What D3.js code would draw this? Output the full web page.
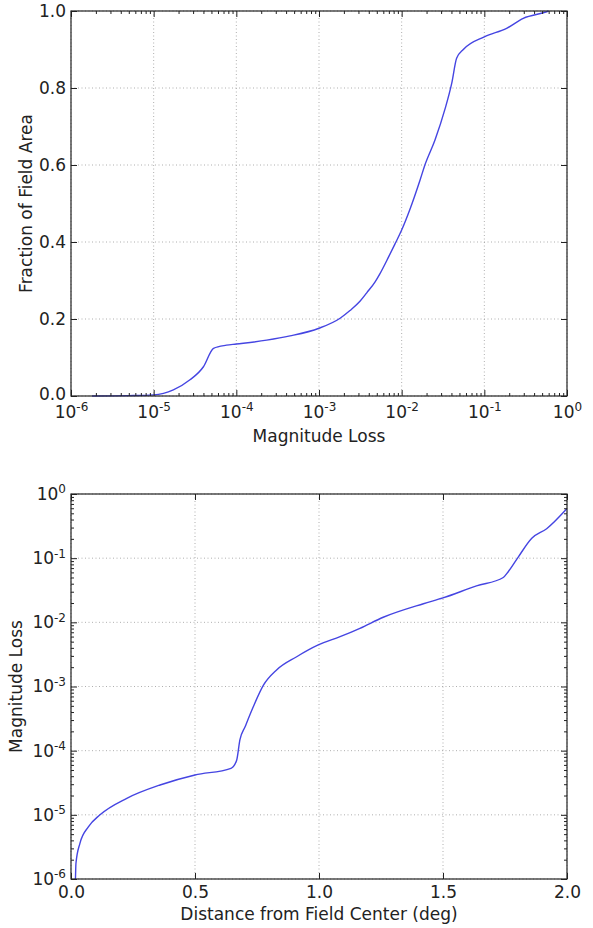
<!DOCTYPE html>
<html>
<head>
<meta charset="utf-8">
<script src="https://cdn.jsdelivr.net/npm/d3@7"></script>
<style>
  html, body { margin: 0; padding: 0; background: #fff; }
  svg { display: block; font-family: "DejaVu Sans", sans-serif; }
</style>
</head>
<body>
<svg id="chart" width="593" height="928"></svg>
<script>
// ---------- Data: top panel (cumulative fraction of field area vs magnitude loss) ----------
const topLoss = [1.8e-6, 5.0e-6, 1.0e-5, 1.73e-5, 2.75e-5, 4.0e-5, 5.3e-5, 7.6e-5, 1.0e-4,
  2.33e-4, 4.46e-4, 1.0e-3, 1.8e-3, 2.37e-3, 3.13e-3, 3.78e-3, 4.75e-3, 5.47e-3, 6.9e-3, 8.3e-3,
  1.0e-2, 1.26e-2, 1.67e-2, 1.91e-2, 2.53e-2, 3.34e-2, 4.03e-2, 4.62e-2, 5.57e-2, 0.1,
  0.186, 0.296, 0.567, 0.6];
const topFraction = [0.0, 0.001, 0.003, 0.016, 0.042, 0.076, 0.124, 0.132, 0.135,
  0.145, 0.156, 0.176, 0.202, 0.222, 0.246, 0.268, 0.296, 0.318, 0.36, 0.395,
  0.431, 0.485, 0.561, 0.600, 0.665, 0.745, 0.812, 0.877, 0.900, 0.933,
  0.955, 0.981, 0.998, 1.0];

// ---------- Data: bottom panel (magnitude loss vs distance from field center) ----------
const botDistance = [0.018, 0.02, 0.036, 0.07, 0.117, 0.225, 0.359, 0.5, 0.645, 0.668,
  0.681, 0.702, 0.735, 0.776, 0.829, 0.91, 0.997, 1.085, 1.165, 1.259, 1.421, 1.5,
  1.635, 1.743, 1.763, 1.804, 1.858, 1.918, 1.999];
const botLoss = [1.0e-6, 1.76e-6, 3.6e-6, 6.5e-6, 1.0e-5, 1.81e-5, 2.92e-5, 4.18e-5, 5.31e-5, 7.1e-5,
  1.47e-4, 2.36e-4, 4.84e-4, 1.05e-3, 1.81e-3, 2.91e-3, 4.44e-3, 5.97e-3, 8.07e-3, 1.2e-2, 1.95e-2, 2.4e-2,
  3.7e-2, 5.0e-2, 6.15e-2, 0.105, 0.204, 0.288, 0.589];

// ---------- Tick labels ----------
const logTicks = [1e-6, 1e-5, 1e-4, 1e-3, 1e-2, 1e-1, 1];
const fracTicks = [0.0, 0.2, 0.4, 0.6, 0.8, 1.0];
const distTicks = [0.0, 0.5, 1.0, 1.5, 2.0];

const xTopLabel = "Magnitude Loss";
const yTopLabel = "Fraction of Field Area";
const xBotLabel = "Distance from Field Center (deg)";
const yBotLabel = "Magnitude Loss";

// ---------- Layout ----------
const svg = d3.select("#chart");
const W = 496, H = 385;
const FONT = 17, SUP = 12;
const LINE_COLOR = "#4545e2";

function minorLogTicks() {
  const out = [];
  for (let e = -6; e < 0; e++) for (let m = 2; m <= 9; m++) out.push(m * Math.pow(10, e));
  return out;
}

function supLabel(sel) {
  sel.each(function(d) {
    const t = d3.select(this);
    const e = Math.round(Math.log10(d));
    t.text(null);
    t.append("tspan").text("10");
    t.append("tspan").attr("font-size", SUP).attr("dy", "-0.55em").text(e < 0 ? "-" + (-e) : String(e));
  });
}

function styleAxis(g) {
  g.select(".domain").remove();
  g.selectAll("line").attr("stroke", "#222").attr("stroke-width", 1);
  g.selectAll("text").attr("fill", "#222").attr("font-size", FONT).attr("font-family", "DejaVu Sans, sans-serif");
}

function grid(g, x, y, xt, yt) {
  g.append("g").selectAll("line").data(xt).join("line")
    .attr("x1", d => x(d)).attr("x2", d => x(d)).attr("y1", 0).attr("y2", H);
  g.append("g").selectAll("line").data(yt).join("line")
    .attr("y1", d => y(d)).attr("y2", d => y(d)).attr("x1", 0).attr("x2", W);
  g.selectAll("line").attr("stroke", "#9a9a9a").attr("stroke-width", 0.8).attr("stroke-dasharray", "1,2.5");
}

// ================= TOP PANEL =================
{
  const g = svg.append("g").attr("transform", "translate(71,11)");
  const x = d3.scaleLog().domain([1e-6, 1]).range([0, W]);
  const y = d3.scaleLinear().domain([0, 1]).range([H, 0]);

  grid(g, x, y, logTicks, fracTicks);

  const line = d3.line().x((d, i) => x(topLoss[i])).y(d => y(d)).curve(d3.curveMonotoneX);
  g.append("path").datum(topFraction).attr("d", line)
    .attr("fill", "none").attr("stroke", LINE_COLOR).attr("stroke-width", 1.4);

  // bottom axis
  const xb = g.append("g").attr("transform", `translate(0,${H})`)
    .call(d3.axisBottom(x).tickValues(logTicks).tickSize(-6).tickPadding(10));
  styleAxis(xb);
  xb.selectAll("text").call(supLabel);
  const xbm = g.append("g").attr("transform", `translate(0,${H})`)
    .call(d3.axisBottom(x).tickValues(minorLogTicks()).tickSize(-3).tickFormat(""));
  styleAxis(xbm);
  // top axis
  const xt = g.append("g").call(d3.axisTop(x).tickValues(logTicks).tickSize(-6).tickFormat(""));
  styleAxis(xt);
  const xtm = g.append("g").call(d3.axisTop(x).tickValues(minorLogTicks()).tickSize(-3).tickFormat(""));
  styleAxis(xtm);
  // left axis
  const yl = g.append("g").call(d3.axisLeft(y).tickValues(fracTicks).tickSize(-6).tickPadding(5).tickFormat(d3.format(".1f")));
  styleAxis(yl);
  yl.selectAll("text").filter(d => d === 0).attr("dy", "0.2em");
  const yr = g.append("g").attr("transform", `translate(${W},0)`)
    .call(d3.axisRight(y).tickValues(fracTicks).tickSize(-6).tickFormat(""));
  styleAxis(yr);

  g.append("rect").attr("width", W).attr("height", H).attr("fill", "none")
    .attr("stroke", "#222").attr("stroke-width", 1.2);

  g.append("text").attr("x", W / 2).attr("y", H + 46).attr("text-anchor", "middle")
    .attr("font-size", FONT).attr("fill", "#222").text(xTopLabel);
  g.append("text").attr("transform", `translate(${-39},${H / 2}) rotate(-90)`)
    .attr("text-anchor", "middle").attr("font-size", FONT).attr("fill", "#222").text(yTopLabel);
}

// ================= BOTTOM PANEL =================
{
  const g = svg.append("g").attr("transform", "translate(71,494)");
  const x = d3.scaleLinear().domain([0, 2]).range([0, W]);
  const y = d3.scaleLog().domain([1e-6, 1]).range([H, 0]);

  grid(g, x, y, distTicks, logTicks);

  const line = d3.line().x((d, i) => x(botDistance[i])).y(d => y(d)).curve(d3.curveMonotoneX);
  g.append("path").datum(botLoss).attr("d", line)
    .attr("fill", "none").attr("stroke", LINE_COLOR).attr("stroke-width", 1.4);

  const xb = g.append("g").attr("transform", `translate(0,${H})`)
    .call(d3.axisBottom(x).tickValues(distTicks).tickSize(-6).tickPadding(7).tickFormat(d3.format(".1f")));
  styleAxis(xb);
  const xt = g.append("g").call(d3.axisTop(x).tickValues(distTicks).tickSize(-6).tickFormat(""));
  styleAxis(xt);

  const yl = g.append("g").call(d3.axisLeft(y).tickValues(logTicks).tickSize(-6).tickPadding(5));
  styleAxis(yl);
  yl.selectAll("text").call(supLabel);
  const ylm = g.append("g").call(d3.axisLeft(y).tickValues(minorLogTicks()).tickSize(-3).tickFormat(""));
  styleAxis(ylm);
  const yr = g.append("g").attr("transform", `translate(${W},0)`)
    .call(d3.axisRight(y).tickValues(logTicks).tickSize(-6).tickFormat(""));
  styleAxis(yr);
  const yrm = g.append("g").attr("transform", `translate(${W},0)`)
    .call(d3.axisRight(y).tickValues(minorLogTicks()).tickSize(-3).tickFormat(""));
  styleAxis(yrm);

  g.append("rect").attr("width", W).attr("height", H).attr("fill", "none")
    .attr("stroke", "#222").attr("stroke-width", 1.2);

  g.append("text").attr("x", W / 2).attr("y", H + 41).attr("text-anchor", "middle")
    .attr("font-size", FONT).attr("fill", "#222").text(xBotLabel);
  g.append("text").attr("transform", `translate(${-49},${H / 2}) rotate(-90)`)
    .attr("text-anchor", "middle").attr("font-size", FONT).attr("fill", "#222").text(yBotLabel);
}
</script>
</body>
</html>
